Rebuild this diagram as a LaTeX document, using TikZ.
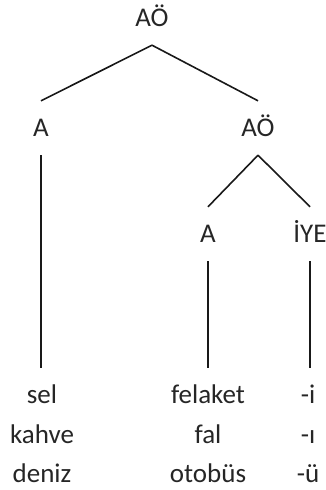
\documentclass[tikz,border=0pt]{standalone}
\usepackage{fontspec}
\setmainfont{Carlito}
\begin{document}
\begin{tikzpicture}[x=1pt,y=1pt,
    every node/.style={anchor=base,inner xsep=0pt,inner ysep=18pt,
      text height=18pt,text depth=0pt,text=black!85,
      font=\fontsize{27}{31}\selectfont},
    branch/.style={line width=1.6pt,draw=black!90}]
      \useasboundingbox (0,0) rectangle (326,490);
      \path
        (152,463) node (ao){AÖ}
        (41,353) node (a){A}
        (258,353) node (aoi){AÖ}
        (208,247) node (ai){A}
        (310,247) node (iye){İYE};
      \path
        (42,86) node (sel){sel}
        (42,46) node (kahve){kahve}
        (42,7) node (deniz){deniz}
        (208,86) node (felaket){felaket}
        (208,46) node (fal){fal}
        (208,7) node (otobus){otobüs}
        (308,86) node (i){-i}
        (308,46) node (ii){-ı}
        (308,7) node (u){-ü};
      \begin{scope}[branch]
        \draw (ao.south) to (a.north);
        \draw (ao.south) to (aoi.north);
        \draw (aoi.south) to (ai.north);
        \draw (aoi.south) to (iye.north);
        \draw (a.south) to (a.south |- sel.north);
        \draw (ai.south) to (ai.south |- felaket.north);
        \draw (iye.south) to (iye.south |- i.north);
      \end{scope}
    \end{tikzpicture}
\end{document}
